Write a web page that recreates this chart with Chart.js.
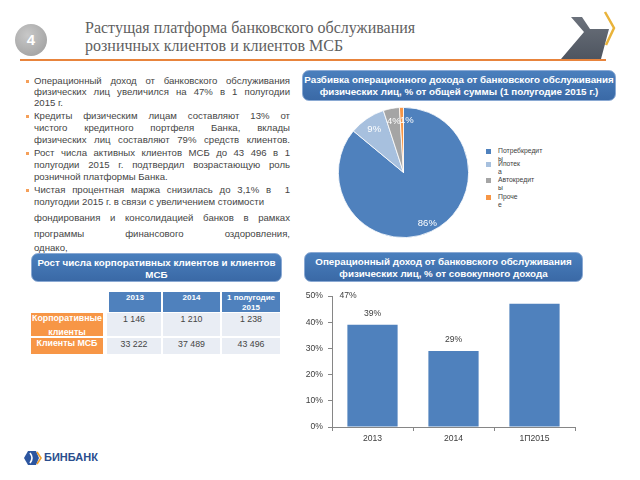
<!DOCTYPE html>
<html lang="ru">
<head>
<meta charset="UTF-8">
<title>Розничная платформа</title>
<script src="https://cdn.jsdelivr.net/npm/chart.js"></script>
<style>
    body { margin: 0; width: 640px; height: 480px; background: #fff; overflow: hidden; position: relative;
           font-family: "Liberation Sans", Arial, sans-serif; color: #454545; }
    .abs { position: absolute; }
    .title { left: 85px; top: 19px; font-family: "Liberation Serif", "DejaVu Serif", "Times New Roman", serif;
             font-size: 16px; line-height: 18px; color: #5f5f5f; }
    .circle { left: 15px; top: 24px; width: 32px; height: 32px; border-radius: 50%;
              background: radial-gradient(circle at 40% 35%, #c8c8c8, #9a9a9a); color: #fff;
              font-weight: bold; font-size: 15px; text-align: center; line-height: 32px; }
    .rule { left: 20px; top: 59px; width: 586px; height: 2px; background: #e8843c; }
    .ln { position: absolute; left: 34px; width: 256px; font-size: 9.6px; line-height: 11px; white-space: nowrap; }
    .j { text-align: justify; text-align-last: justify; white-space: normal; }
    .dot { position: absolute; left: 26px; width: 3px; height: 3px; background: #f5a05a; }
    .box { position: absolute; border-radius: 7px; border: 1px solid #8aa9d3;
           background: linear-gradient(#4a7fbd, #3a69a6); color: #fff; font-weight: bold;
           font-size: 9.8px; line-height: 12px; text-align: center; box-sizing: border-box; padding-top: 3px; }
    .cell { position: absolute; text-align: center; box-sizing: border-box; }
    .hd { background: #4f81bd; color: #fff; font-weight: bold; font-size: 8px; line-height: 10px; padding-top: 1px; }
    .rl { background: #f79646; color: #fff; font-weight: bold; font-size: 8.8px; line-height: 14px; }
    .rl span { position: relative; top: -2px; }
    .dc { background: #e9edf4; font-size: 8.8px; line-height: 11px; padding-top: 1px; }
    .leg { position: absolute; left: 486px; font-size: 6.8px; line-height: 8px; color: #404040; }
    .leg i { position: absolute; left: 0; top: 2px; width: 5px; height: 5px; }
    .leg span { position: absolute; left: 12px; top: 0; white-space: nowrap; }
</style>
</head>
<body>
<div class="abs circle">4</div>
<div class="abs title">Растущая платформа банковского обслуживания<br>розничных клиентов и клиентов МСБ</div>
<div class="abs rule"></div>
<svg class="abs" style="left:555px;top:8px" width="70" height="55" viewBox="555 8 70 55">
    <defs><linearGradient id="gr" x1="0" y1="0" x2="0" y2="1">
        <stop offset="0" stop-color="#6b717b"/><stop offset="1" stop-color="#4e5560"/></linearGradient></defs>
    <polygon points="571,17 582,17 590,29 609,29 601,59 561,59 584,32" fill="url(#gr)"/>
    <polyline points="605,12 614,28 606,45" fill="none" stroke="#e9b33a" stroke-width="2.5"/>
</svg>

<div class="dot" style="top:80px"></div>
<div class="ln j" style="top:75px">Операционный доход от банковского обслуживания</div>
<div class="ln j" style="top:86px">физических лиц увеличился на 47% в 1 полугодии</div>
<div class="ln" style="top:97px">2015 г.</div>
<div class="dot" style="top:115px"></div>
<div class="ln j" style="top:110px">Кредиты физическим лицам составляют 13% от</div>
<div class="ln j" style="top:122px">чистого кредитного портфеля Банка, вклады</div>
<div class="ln j" style="top:134px">физических лиц составляют 79% средств клиентов.</div>
<div class="dot" style="top:152px"></div>
<div class="ln j" style="top:147px">Рост числа активных клиентов МСБ до 43 496 в 1</div>
<div class="ln j" style="top:159px">полугодии 2015 г. подтвердил возрастающую роль</div>
<div class="ln" style="top:171px">розничной платформы Банка.</div>
<div class="dot" style="top:189px"></div>
<div class="ln j" style="top:184px">Чистая процентная маржа снизилась до 3,1% в &nbsp;1</div>
<div class="ln" style="top:196px">полугодии 2015 г. в связи с увеличением стоимости</div>
<div class="ln j" style="top:212px">фондирования и консолидацией банков в рамках</div>
<div class="ln j" style="top:228px">программы финансового оздоровления,</div>
<div class="ln" style="top:242px">однако,</div>

<div class="box" style="left:302px;top:70px;width:314px;height:31px">Разбивка операционного дохода от банковского обслуживания<br>физических лиц, % от общей суммы (1 полугодие 2015 г.)</div>
<div class="box" style="left:31px;top:253px;width:251px;height:29px">Рост числа корпоративных клиентов и клиентов<br>МСБ</div>
<div class="box" style="left:304px;top:252px;width:279px;height:30px">Операционный доход от банковского обслуживания<br>физических лиц, % от совокупного дохода</div>

<div id="tbl"></div>

<canvas id="pie" class="abs" style="left:338px;top:107px" width="131" height="131"></canvas>
<div id="legend"></div>
<canvas id="bars" class="abs" style="left:300px;top:285px" width="290" height="160"></canvas>

<svg class="abs" style="left:24px;top:451px" width="18" height="14" viewBox="0 0 18 14">
    <polygon points="4,0 12,0 15,7 12,14 4,14 0,7" fill="#2d56a0"/>
    <path d="M6,2 Q10,7 6,12" fill="none" stroke="#fff" stroke-width="1.6"/>
    <polyline points="13,1 17,7 13,13" fill="none" stroke="#f0a030" stroke-width="1.6"/>
</svg>
<div class="abs" style="left:44px;top:451px;font-weight:bold;font-size:11px;color:#2a4e8e">БИНБАНК</div>

<script>
    // pie: structure of retail operating income, 1H 2015
    var pieLabels = ['Потребкредиты', 'Ипотека', 'Автокредиты', 'Прочее'];
    var pieValues = [86, 9, 4, 1];
    var pieColors = ['#4f81bd', '#a7c0de', '#a5a5a5', '#f79646'];

    // bars: retail operating income, % of total income
    var barLabels = ['2013', '2014', '1П2015'];
    var barValues = [39, 29, 47];

    // table: number of clients
    var tableHeads = ['2013', '2014', '1 полугодие 2015'];
    var tableRows = ['Корпоративные клиенты', 'Клиенты МСБ'];
    var corporateClients = ['1 146', '1 210', '1 238'];
    var smeClients = ['33 222', '37 489', '43 496'];

    // build the table out of positioned cells
    var cols = [[107, 161], [163, 220], [222, 280]];
    var rowsY = [[313, 336], [338, 354]];
    var tbl = document.getElementById('tbl');
    function cell(cls, x0, x1, y0, y1, txt) {
        tbl.innerHTML += '<div class="cell ' + cls + '" style="left:' + x0 + 'px;top:' + y0 + 'px;width:' +
            (x1 - x0) + 'px;height:' + (y1 - y0) + 'px">' + txt + '</div>';
    }
    tableHeads.forEach(function (h, i) {
        cell('hd', i === 0 ? 109 : cols[i][0], cols[i][1], 292, 312, h.replace('полугодие ', 'полугодие<br>'));
    });
    [corporateClients, smeClients].forEach(function (row, r) {
        cell('rl', 31, 103, rowsY[r][0], rowsY[r][1], '<span>' + tableRows[r].replace('ные ', 'ные<br>') + '</span>');
        row.forEach(function (v, i) {
            cell('dc', cols[i][0], cols[i][1], rowsY[r][0], rowsY[r][1], v);
        });
    });

    // html legend for the pie (the source wraps every label before its last letter)
    var legTops = [147, 160, 176, 193];
    var leg = document.getElementById('legend');
    pieLabels.forEach(function (l, i) {
        leg.innerHTML += '<div class="leg" style="top:' + legTops[i] + 'px"><i style="background:' +
            pieColors[i] + '"></i><span>' + l.slice(0, -1) + '<br>' + l.slice(-1) + '</span></div>';
    });

    Chart.defaults.font.family = '"Liberation Sans", Arial, sans-serif';
    Chart.defaults.color = '#404040';

    var pieLabelPlugin = {
        id: 'pieLabels',
        afterDatasetsDraw: function (chart) {
            var ctx = chart.ctx;
            var meta = chart.getDatasetMeta(0);
            ctx.save();
            ctx.fillStyle = '#fff';
            ctx.font = '9.5px "Liberation Sans", Arial, sans-serif';
            ctx.textAlign = 'center';
            ctx.textBaseline = 'middle';
            meta.data.forEach(function (arc, i) {
                var p = arc.getProps(['x', 'y', 'startAngle', 'endAngle', 'outerRadius']);
                var a = (p.startAngle + p.endAngle) / 2;
                var r = p.outerRadius * (i === 0 ? 0.86 : 0.8);
                var dx = i === 3 ? 5 : 0;
                ctx.fillText(pieValues[i] + '%', p.x + Math.cos(a) * r + dx, p.y + Math.sin(a) * r);
            });
            ctx.restore();
        }
    };

    new Chart(document.getElementById('pie'), {
        type: 'pie',
        data: {
            labels: pieLabels,
            datasets: [{ data: pieValues, backgroundColor: pieColors, borderColor: '#fff', borderWidth: 0.8 }]
        },
        options: {
            responsive: false,
            animation: false,
            devicePixelRatio: 1,
            layout: { padding: 0 },
            plugins: { legend: { display: false }, tooltip: { enabled: false } }
        },
        plugins: [pieLabelPlugin]
    });

    var barLabelPlugin = {
        id: 'barLabels',
        afterDatasetsDraw: function (chart) {
            var ctx = chart.ctx;
            var meta = chart.getDatasetMeta(0);
            var xs = chart.scales.x, ys = chart.scales.y;
            ctx.save();
            ctx.fillStyle = '#404040';
            ctx.font = '8.6px "Liberation Sans", Arial, sans-serif';
            ctx.textAlign = 'center';
            ctx.textBaseline = 'middle';
            meta.data.forEach(function (bar, i) {
                if (i === 2) {
                    // this label sits at the top left corner in the source slide
                    ctx.fillText(barValues[i] + '%', xs.left + 16, ys.getPixelForValue(50));
                } else {
                    ctx.fillText(barValues[i] + '%', bar.x, bar.y - 11);
                }
            });
            ctx.restore();
        }
    };

    new Chart(document.getElementById('bars'), {
        type: 'bar',
        data: {
            labels: barLabels,
            datasets: [{ data: barValues, backgroundColor: '#4f81bd', barPercentage: 0.62, categoryPercentage: 1 }]
        },
        options: {
            responsive: false,
            animation: false,
            devicePixelRatio: 1,
            layout: { padding: { top: 11, right: 15, left: 0, bottom: 0 } },
            plugins: { legend: { display: false }, tooltip: { enabled: false } },
            scales: {
                x: {
                    grid: { drawOnChartArea: false, tickLength: 4, color: '#868686' },
                    border: { color: '#868686' },
                    ticks: { font: { size: 8.6 }, padding: 2, color: '#404040' },
                    afterFit: function (s) { s.height = 18; }
                },
                y: {
                    min: 0, max: 50,
                    grid: { drawOnChartArea: false, tickLength: 4, color: '#868686' },
                    border: { color: '#868686' },
                    ticks: { stepSize: 10, font: { size: 8.6 }, padding: 5, color: '#404040',
                             callback: function (v) { return v + '%'; } },
                    afterFit: function (s) { s.width = 32; }
                }
            }
        },
        plugins: [barLabelPlugin]
    });
</script>
</body>
</html>
